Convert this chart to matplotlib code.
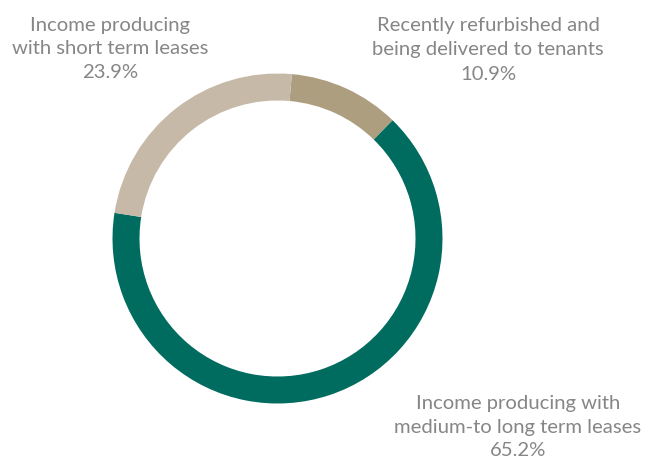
import matplotlib
matplotlib.use("Agg")
import matplotlib.pyplot as plt

# --- data ---
labels = ["Recently refurbished and\nbeing delivered to tenants",
          "Income producing with\nmedium-to long term leases",
          "Income producing\nwith short term leases"]
shares = [10.9, 65.2, 23.9]
colors = ["#AD9E80", "#006B5F", "#C6B9A7"]

# label anchor positions in pixels (x, y from top)
label_pos = [(488, 50), (518, 427), (110, 49)]

W, H = 648, 463
fig = plt.figure(figsize=(W / 100, H / 100), dpi=100)
ax = fig.add_axes([0, 0, 1, 1])

cx, cy, R = 277.5, H - 238.5, 165
ax.pie(shares, colors=colors, startangle=85, counterclock=False,
       center=(cx, cy), radius=R,
       wedgeprops=dict(width=27, linewidth=0))

ax.set_xlim(0, W)
ax.set_ylim(0, H)
ax.set_aspect("equal")
ax.axis("off")

for lab, val, (x, y) in zip(labels, shares, label_pos):
    ax.text(x, H - y, f"{lab}\n{val:.1f}%", ha="center", va="center",
            fontsize=14.6, color="#868686", family=["Lato", "DejaVu Sans"],
            fontweight="normal", linespacing=1.5)

fig.savefig("out.png", dpi=100, facecolor="white")
